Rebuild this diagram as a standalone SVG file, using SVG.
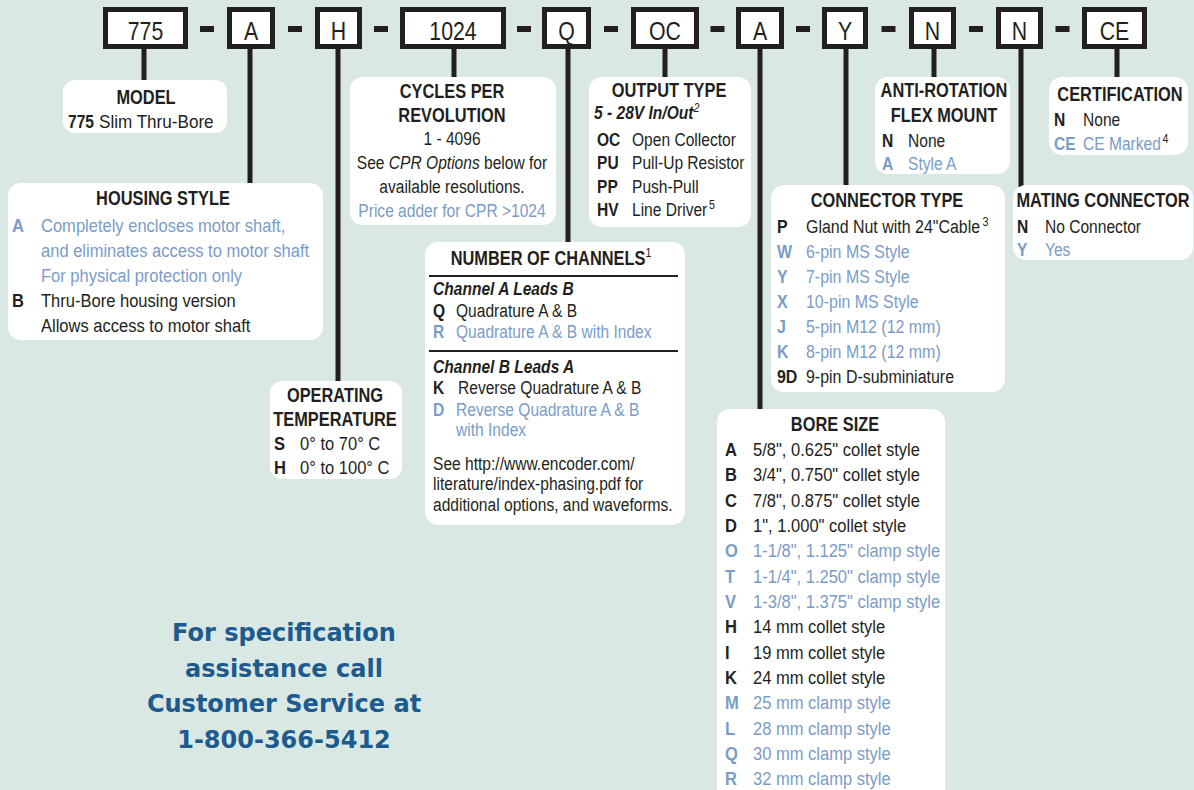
<svg xmlns="http://www.w3.org/2000/svg" width="1194" height="790" viewBox="0 0 1194 790">
<style>
.box{fill:#fff}
.key{fill:#fff;stroke:#231f20;stroke-width:5}
.dash{fill:#231f20}
.conn line{stroke:#231f20;stroke-width:5}
text{font-family:"Liberation Sans",Arial,sans-serif;fill:#231f20;font-size:19px}
.kt{font-size:26px;text-anchor:middle}
.h{font-weight:bold;font-size:20px;text-anchor:middle}
.m{text-anchor:middle}
.c{font-weight:bold}
.bl{fill:#7a9cc8}
.i{font-style:italic}
.sup{font-size:13px;font-weight:normal;font-style:normal}
.foot{font-family:"DejaVu Sans","Liberation Sans",sans-serif;font-weight:bold;font-size:24px;fill:#1d5a8e;text-anchor:middle}
.rule{stroke:#231f20;stroke-width:2}
</style>
<rect width="1194" height="790" fill="#d9e8e3"/>

<g id="connectors" class="conn">
<line x1="144" y1="49" x2="144" y2="82"/>
<line x1="250" y1="49" x2="250" y2="185"/>
<line x1="338" y1="49" x2="338" y2="383"/>
<line x1="454" y1="49" x2="454" y2="79"/>
<line x1="568" y1="49" x2="568" y2="244"/>
<line x1="665" y1="49" x2="665" y2="79"/>
<line x1="760" y1="49" x2="760" y2="411"/>
<line x1="846" y1="49" x2="846" y2="187"/>
<line x1="934" y1="49" x2="934" y2="79"/>
<line x1="1021" y1="49" x2="1021" y2="187"/>
<line x1="1117" y1="49" x2="1117" y2="79"/>
</g>

<g id="partnumber">
<rect class="key" x="105.5" y="9.5" width="80" height="37"/><text class="kt" transform="matrix(.82 0 0 1 145.5 40)">775</text>
<rect class="dash" x="200" y="26" width="14" height="6"/>
<rect class="key" x="229.5" y="9.5" width="43" height="37"/><text class="kt" transform="matrix(.82 0 0 1 251 40)">A</text>
<rect class="dash" x="288" y="26" width="14" height="6"/>
<rect class="key" x="317.5" y="9.5" width="42" height="37"/><text class="kt" transform="matrix(.82 0 0 1 338.5 40)">H</text>
<rect class="dash" x="374" y="26" width="14" height="6"/>
<rect class="key" x="402.5" y="9.5" width="101" height="37"/><text class="kt" transform="matrix(.82 0 0 1 453 40)">1024</text>
<rect class="dash" x="517" y="26" width="14" height="6"/>
<rect class="key" x="544.5" y="9.5" width="44" height="37"/><text class="kt" transform="matrix(.82 0 0 1 566.5 40)">Q</text>
<rect class="dash" x="604" y="26" width="14" height="6"/>
<rect class="key" x="633.5" y="9.5" width="63" height="37"/><text class="kt" transform="matrix(.82 0 0 1 665 40)">OC</text>
<rect class="dash" x="710.5" y="26" width="14" height="6"/>
<rect class="key" x="738.5" y="9.5" width="43" height="37"/><text class="kt" transform="matrix(.82 0 0 1 760 40)">A</text>
<rect class="dash" x="796" y="26" width="14" height="6"/>
<rect class="key" x="824.5" y="9.5" width="41" height="37"/><text class="kt" transform="matrix(.82 0 0 1 845 40)">Y</text>
<rect class="dash" x="881.5" y="26" width="14" height="6"/>
<rect class="key" x="911.5" y="9.5" width="42" height="37"/><text class="kt" transform="matrix(.82 0 0 1 932.5 40)">N</text>
<rect class="dash" x="969" y="26" width="14" height="6"/>
<rect class="key" x="998.5" y="9.5" width="42" height="37"/><text class="kt" transform="matrix(.82 0 0 1 1019.5 40)">N</text>
<rect class="dash" x="1055.5" y="26" width="14" height="6"/>
<rect class="key" x="1084.5" y="9.5" width="60" height="37"/><text class="kt" transform="matrix(.82 0 0 1 1114.5 40)">CE</text>
</g>

<g id="model">
<rect class="box" x="63" y="80" width="164" height="53" rx="12"/>
<text class="h" transform="matrix(.82 0 0 1 146 104)">MODEL</text>
<text class="c" transform="matrix(.82 0 0 1 68 128)">775</text><text transform="matrix(.9 0 0 1 99 128)">Slim Thru-Bore</text>
</g>

<g id="housing-style">
<rect class="box" x="8" y="183" width="315" height="157" rx="13"/>
<text class="h" transform="matrix(.82 0 0 1 163 205)">HOUSING STYLE</text>
<text class="c bl" transform="matrix(.87 0 0 1 12 232)">A</text><text class="bl" transform="matrix(.87 0 0 1 41 232)">Completely encloses motor shaft,</text>
<text class="bl" transform="matrix(.87 0 0 1 41 257)">and eliminates access to motor shaft</text>
<text class="bl" transform="matrix(.87 0 0 1 41 282)">For physical protection only</text>
<text class="c" transform="matrix(.87 0 0 1 12 307)">B</text><text transform="matrix(.87 0 0 1 41 307)">Thru-Bore housing version</text>
<text transform="matrix(.87 0 0 1 41 332)">Allows access to motor shaft</text>
</g>

<g id="operating-temperature">
<rect class="box" x="270" y="381" width="132" height="98" rx="12"/>
<text class="h" transform="matrix(.82 0 0 1 335 402)">OPERATING</text>
<text class="h" transform="matrix(.82 0 0 1 335 426)">TEMPERATURE</text>
<text class="c" transform="matrix(.87 0 0 1 274 450)">S</text><text transform="matrix(.87 0 0 1 300 450)">0° to 70° C</text>
<text class="c" transform="matrix(.87 0 0 1 274 474)">H</text><text transform="matrix(.87 0 0 1 300 474)">0° to 100° C</text>
</g>

<g id="cycles-per-revolution">
<rect class="box" x="350" y="77" width="206" height="148" rx="13"/>
<text class="h" transform="matrix(.82 0 0 1 452 98)">CYCLES PER</text>
<text class="h" transform="matrix(.82 0 0 1 452 122)">REVOLUTION</text>
<text class="m" transform="matrix(.82 0 0 1 452 145)">1 - 4096</text>
<text class="m" transform="matrix(.82 0 0 1 452 169)">See <tspan class="i">CPR Options</tspan> below for</text>
<text class="m" transform="matrix(.82 0 0 1 452 193)">available resolutions.</text>
<text class="m bl" transform="matrix(.82 0 0 1 452 217)">Price adder for CPR &gt;1024</text>
</g>

<g id="number-of-channels">
<rect class="box" x="425" y="242" width="260" height="283" rx="13"/>
<text class="h" transform="matrix(.82 0 0 1 551 265)">NUMBER OF CHANNELS<tspan class="sup" dy="-8">1</tspan></text>
<line class="rule" x1="429" y1="276" x2="678" y2="276"/>
<text class="i c" transform="matrix(.82 0 0 1 433 295)">Channel A Leads B</text>
<text class="c" transform="matrix(.82 0 0 1 433 317)">Q</text><text transform="matrix(.82 0 0 1 456 317)">Quadrature A &amp; B</text>
<text class="c bl" transform="matrix(.82 0 0 1 433 338)">R</text><text class="bl" transform="matrix(.82 0 0 1 456 338)">Quadrature A &amp; B with Index</text>
<line class="rule" x1="429" y1="351" x2="678" y2="351"/>
<text class="i c" transform="matrix(.82 0 0 1 433 373)">Channel B Leads A</text>
<text class="c" transform="matrix(.82 0 0 1 433 394)">K</text><text transform="matrix(.82 0 0 1 458 394)">Reverse Quadrature A &amp; B</text>
<text class="c bl" transform="matrix(.82 0 0 1 433 416)">D</text><text class="bl" transform="matrix(.82 0 0 1 456 416)">Reverse Quadrature A &amp; B</text>
<text class="bl" transform="matrix(.82 0 0 1 456 436)">with Index</text>
<text transform="matrix(.82 0 0 1 433 470)">See http://www.encoder.com/</text>
<text transform="matrix(.82 0 0 1 433 490)">literature/index-phasing.pdf for</text>
<text transform="matrix(.82 0 0 1 433 511)">additional options, and waveforms.</text>
</g>

<g id="output-type">
<rect class="box" x="589" y="77" width="162" height="150" rx="13"/>
<text class="h" transform="matrix(.82 0 0 1 669 97)">OUTPUT TYPE</text>
<text class="i c" transform="matrix(.82 0 0 1 594 119)">5 - 28V In/Out<tspan class="sup" style="font-style:italic" dy="-7">2</tspan></text>
<text class="c" transform="matrix(.82 0 0 1 597 146)">OC</text><text transform="matrix(.82 0 0 1 632 146)">Open Collector</text>
<text class="c" transform="matrix(.82 0 0 1 597 169)">PU</text><text transform="matrix(.82 0 0 1 632 169)">Pull-Up Resistor</text>
<text class="c" transform="matrix(.82 0 0 1 597 193)">PP</text><text transform="matrix(.82 0 0 1 632 193)">Push-Pull</text>
<text class="c" transform="matrix(.82 0 0 1 597 216)">HV</text><text transform="matrix(.82 0 0 1 632 216)">Line Driver<tspan class="sup" dx="2" dy="-7">5</tspan></text>
</g>

<g id="bore-size">
<rect class="box" x="717" y="409" width="228" height="395" rx="13"/>
<text class="h" transform="matrix(.82 0 0 1 835 431)">BORE SIZE</text>
<text class="c" transform="matrix(.87 0 0 1 725 456)">A</text><text transform="matrix(.87 0 0 1 753 456)">5/8", 0.625" collet style</text>
<text class="c" transform="matrix(.87 0 0 1 725 481)">B</text><text transform="matrix(.87 0 0 1 753 481)">3/4", 0.750" collet style</text>
<text class="c" transform="matrix(.87 0 0 1 725 507)">C</text><text transform="matrix(.87 0 0 1 753 507)">7/8", 0.875" collet style</text>
<text class="c" transform="matrix(.87 0 0 1 725 532)">D</text><text transform="matrix(.87 0 0 1 753 532)">1", 1.000" collet style</text>
<text class="c bl" transform="matrix(.87 0 0 1 725 557)">O</text><text class="bl" transform="matrix(.87 0 0 1 753 557)">1-1/8", 1.125" clamp style</text>
<text class="c bl" transform="matrix(.87 0 0 1 725 583)">T</text><text class="bl" transform="matrix(.87 0 0 1 753 583)">1-1/4", 1.250" clamp style</text>
<text class="c bl" transform="matrix(.87 0 0 1 725 608)">V</text><text class="bl" transform="matrix(.87 0 0 1 753 608)">1-3/8", 1.375" clamp style</text>
<text class="c" transform="matrix(.87 0 0 1 725 633)">H</text><text transform="matrix(.87 0 0 1 753 633)">14 mm collet style</text>
<text class="c" transform="matrix(.87 0 0 1 725 659)">I</text><text transform="matrix(.87 0 0 1 753 659)">19 mm collet style</text>
<text class="c" transform="matrix(.87 0 0 1 725 684)">K</text><text transform="matrix(.87 0 0 1 753 684)">24 mm collet style</text>
<text class="c bl" transform="matrix(.87 0 0 1 725 709)">M</text><text class="bl" transform="matrix(.87 0 0 1 753 709)">25 mm clamp style</text>
<text class="c bl" transform="matrix(.87 0 0 1 725 735)">L</text><text class="bl" transform="matrix(.87 0 0 1 753 735)">28 mm clamp style</text>
<text class="c bl" transform="matrix(.87 0 0 1 725 760)">Q</text><text class="bl" transform="matrix(.87 0 0 1 753 760)">30 mm clamp style</text>
<text class="c bl" transform="matrix(.87 0 0 1 725 785)">R</text><text class="bl" transform="matrix(.87 0 0 1 753 785)">32 mm clamp style</text>
</g>

<g id="connector-type">
<rect class="box" x="771" y="185" width="234" height="207" rx="13"/>
<text class="h" transform="matrix(.82 0 0 1 887 207)">CONNECTOR TYPE</text>
<text class="c" transform="matrix(.84 0 0 1 777 233)">P</text><text transform="matrix(.84 0 0 1 806 233)">Gland Nut with 24"Cable<tspan class="sup" dx="3" dy="-7">3</tspan></text>
<text class="c bl" transform="matrix(.84 0 0 1 777 258)">W</text><text class="bl" transform="matrix(.84 0 0 1 806 258)">6-pin MS Style</text>
<text class="c bl" transform="matrix(.84 0 0 1 777 283)">Y</text><text class="bl" transform="matrix(.84 0 0 1 806 283)">7-pin MS Style</text>
<text class="c bl" transform="matrix(.84 0 0 1 777 308)">X</text><text class="bl" transform="matrix(.84 0 0 1 806 308)">10-pin MS Style</text>
<text class="c bl" transform="matrix(.84 0 0 1 777 333)">J</text><text class="bl" transform="matrix(.84 0 0 1 806 333)">5-pin M12 (12 mm)</text>
<text class="c bl" transform="matrix(.84 0 0 1 777 358)">K</text><text class="bl" transform="matrix(.84 0 0 1 806 358)">8-pin M12 (12 mm)</text>
<text class="c" transform="matrix(.84 0 0 1 777 383)">9D</text><text transform="matrix(.84 0 0 1 806 383)">9-pin D-subminiature</text>
</g>

<g id="anti-rotation">
<rect class="box" x="875" y="77" width="135" height="97" rx="13"/>
<text class="h" transform="matrix(.82 0 0 1 944 97)">ANTI-ROTATION</text>
<text class="h" transform="matrix(.82 0 0 1 944 122)">FLEX MOUNT</text>
<text class="c" transform="matrix(.82 0 0 1 882 147)">N</text><text transform="matrix(.82 0 0 1 908 147)">None</text>
<text class="c bl" transform="matrix(.82 0 0 1 882 170)">A</text><text class="bl" transform="matrix(.82 0 0 1 908 170)">Style A</text>
</g>

<g id="mating-connector">
<rect class="box" x="1013" y="185" width="180" height="75" rx="13"/>
<text class="h" transform="matrix(.82 0 0 1 1103 207)">MATING CONNECTOR</text>
<text class="c" transform="matrix(.82 0 0 1 1017 233)">N</text><text transform="matrix(.82 0 0 1 1045 233)">No Connector</text>
<text class="c bl" transform="matrix(.82 0 0 1 1017 256)">Y</text><text class="bl" transform="matrix(.82 0 0 1 1045 256)">Yes</text>
</g>

<g id="certification">
<rect class="box" x="1049" y="77" width="139" height="78" rx="13"/>
<text class="h" transform="matrix(.82 0 0 1 1120 101)">CERTIFICATION</text>
<text class="c" transform="matrix(.82 0 0 1 1054 126)">N</text><text transform="matrix(.82 0 0 1 1083 126)">None</text>
<text class="c bl" transform="matrix(.82 0 0 1 1054 150)">CE</text><text class="bl" transform="matrix(.82 0 0 1 1083 150)">CE Marked<tspan class="sup" fill="#231f20" dx="2" dy="-7">4</tspan></text>
</g>

<g id="footer">
<text class="foot" x="284" y="641">For specification</text>
<text class="foot" x="284" y="677">assistance call</text>
<text class="foot" x="284" y="712">Customer Service at</text>
<text class="foot" x="284" y="748">1-800-366-5412</text>
</g>
</svg>
